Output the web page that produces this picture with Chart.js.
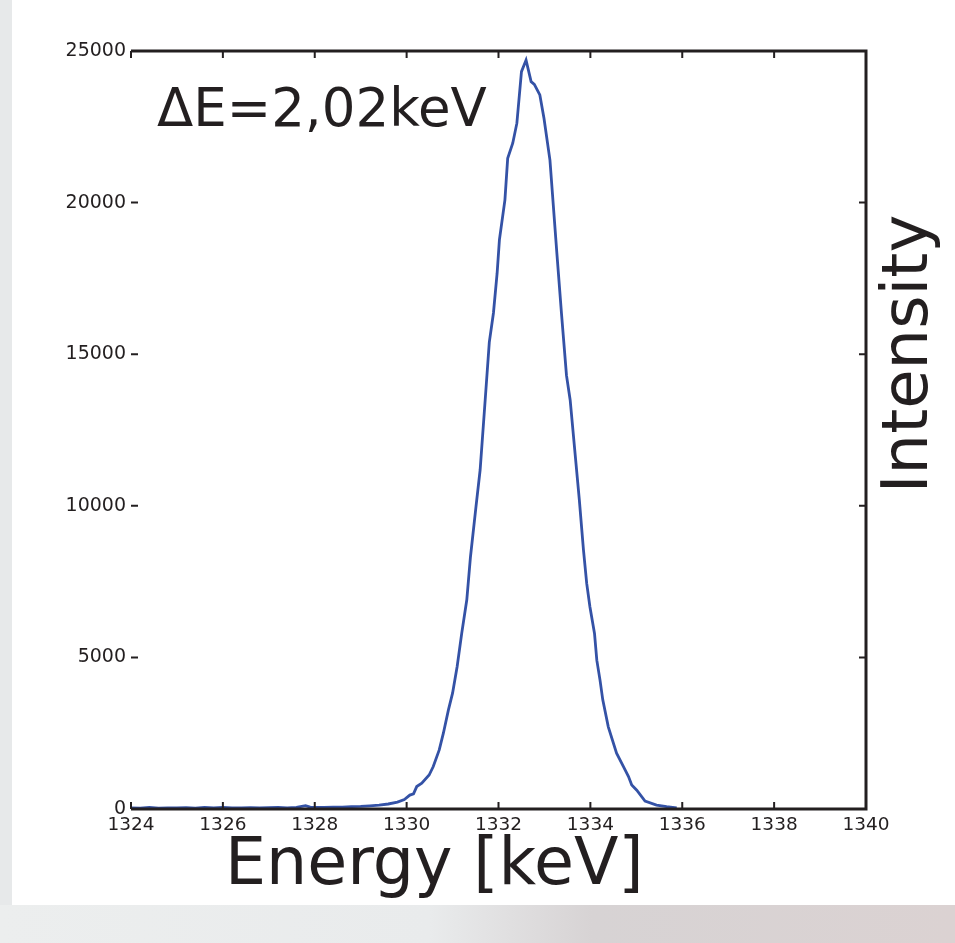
<!DOCTYPE html>
<html>
<head>
<meta charset="utf-8">
<script src="https://cdn.jsdelivr.net/npm/chart.js@4/dist/chart.umd.min.js"></script>
<style>
  html, body { margin: 0; padding: 0; }
  body {
    width: 955px; height: 943px; position: relative; overflow: hidden;
    background: linear-gradient(to right, #eceeee 0%, #e9ebec 45%, #d7d3d4 62%, #dbd2d2 100%);
  }
  #leftStrip { position: absolute; left: 0; top: 0; width: 12px; height: 905px; background: #e7e9ea; }
  #panel { position: absolute; left: 12px; top: 0; width: 943px; height: 905px; background: #fff; }
  #chart { position: absolute; left: 0; top: 0; }
</style>
</head>
<body>
<div id="leftStrip"></div>
<div id="panel"></div>
<canvas id="chart" width="955" height="943"></canvas>
<script>
// spectrum: energy [keV] and counts
const energy = [
  1324.0, 1324.2, 1324.4, 1324.6, 1324.8, 1325.0, 1325.2, 1325.4, 1325.6, 1325.8,
  1326.0, 1326.2, 1326.4, 1326.6, 1326.8, 1327.0, 1327.2, 1327.4, 1327.6, 1327.8,
  1327.9, 1328.0, 1328.2, 1328.4, 1328.6, 1328.8, 1329.0, 1329.2, 1329.4, 1329.6,
  1329.8, 1329.95, 1330.07, 1330.15, 1330.22, 1330.33, 1330.49, 1330.58, 1330.71, 1330.8,
  1330.91, 1331.0, 1331.1, 1331.2, 1331.31, 1331.39, 1331.51, 1331.6, 1331.71, 1331.8,
  1331.89, 1331.97, 1332.02, 1332.14, 1332.2, 1332.31, 1332.4, 1332.5, 1332.6, 1332.71,
  1332.78, 1332.9, 1332.99, 1333.12, 1333.27, 1333.37, 1333.48, 1333.56, 1333.66, 1333.76,
  1333.85, 1333.92, 1333.99, 1334.09, 1334.14, 1334.21, 1334.27, 1334.39, 1334.57, 1334.72,
  1334.83, 1334.9, 1335.01, 1335.19, 1335.44, 1335.66, 1335.88
];
const counts = [
  40, 30, 50, 30, 40, 35, 45, 30, 55, 40,
  50, 35, 40, 45, 35, 45, 50, 40, 55, 110,
  60, 50, 55, 65, 60, 75, 85, 105, 130, 165,
  225, 310, 460, 500, 740, 850, 1120, 1400, 1950, 2500,
  3270, 3820, 4700, 5800, 6900, 8320, 9970, 11180, 13490, 15400,
  16360, 17670, 18770, 20090, 21460, 21960, 22620, 24320, 24700, 23990,
  23900, 23550, 22780, 21400, 18340, 16360, 14300, 13490, 11840, 10190,
  8540, 7440, 6670, 5790, 4910, 4250, 3600, 2710, 1840, 1400,
  1070, 790, 620, 260, 130, 75, 40
];

const xTicks = [1324, 1326, 1328, 1330, 1332, 1334, 1336, 1338, 1340];
const yTicks = [0, 5000, 10000, 15000, 20000, 25000];

const ink = '#231f20';
const font = 'DejaVu Sans';

// frame (no left spine), inward ticks and the free text labels
const framePlugin = {
  id: 'frame',
  afterDatasetsDraw(chart) {
    const { ctx, chartArea: a, scales: { x, y } } = chart;
    ctx.save();
    ctx.strokeStyle = ink;
    ctx.lineWidth = 2;
    xTicks.forEach(v => {
      const px = x.getPixelForValue(v);
      ctx.beginPath();
      ctx.moveTo(px, a.bottom); ctx.lineTo(px, a.bottom - 7);
      ctx.moveTo(px, a.top); ctx.lineTo(px, a.top + 7);
      ctx.stroke();
    });
    yTicks.forEach(v => {
      const py = y.getPixelForValue(v);
      ctx.beginPath();
      ctx.moveTo(a.left, py); ctx.lineTo(a.left + 7, py);
      ctx.moveTo(a.right, py); ctx.lineTo(a.right - 7, py);
      ctx.stroke();
    });
    ctx.lineWidth = 3;
    ctx.beginPath();
    ctx.moveTo(a.left, a.top); ctx.lineTo(a.right, a.top);
    ctx.lineTo(a.right, a.bottom); ctx.lineTo(a.left, a.bottom);
    ctx.stroke();

    ctx.fillStyle = ink;
    ctx.textBaseline = 'alphabetic';
    ctx.font = '53px "' + font + '"';
    ctx.textAlign = 'left';
    ctx.fillText('ΔE=2,02keV', 157, 126);
    ctx.font = '65px "' + font + '"';
    ctx.fillText('Energy [keV]', 225, 884);
    ctx.translate(927, 354);
    ctx.rotate(-Math.PI / 2);
    ctx.textAlign = 'center';
    ctx.font = '64px "' + font + '"';
    ctx.fillText('Intensity', 0, 0);
    ctx.restore();
  }
};

new Chart(document.getElementById('chart'), {
  type: 'line',
  data: {
    datasets: [{
      data: energy.map((e, i) => ({ x: e, y: counts[i] })),
      borderColor: '#3452a6',
      borderWidth: 2.8,
      pointRadius: 0,
      tension: 0,
      fill: false,
    }],
  },
  options: {
    responsive: false,
    animation: false,
    layout: { padding: { left: 61, top: 51, right: 89, bottom: 94 } },
    plugins: { legend: { display: false }, tooltip: { enabled: false } },
    scales: {
      x: {
        type: 'linear',
        min: 1324, max: 1340,
        afterBuildTicks: s => { s.ticks = xTicks.map(v => ({ value: v })); },
        afterFit: s => { s.height = 40; },
        grid: { display: false, drawTicks: false },
        border: { display: false },
        ticks: { color: ink, font: { family: font, size: 18.5 }, padding: 5, maxRotation: 0, callback: v => String(v) },
      },
      y: {
        min: 0, max: 25000,
        afterBuildTicks: s => { s.ticks = yTicks.map(v => ({ value: v })); },
        afterFit: s => { s.width = 70; },
        grid: { display: false, drawTicks: false },
        border: { display: false },
        ticks: { color: ink, font: { family: font, size: 19 }, padding: 5, callback: v => String(v) },
      },
    },
  },
  plugins: [framePlugin],
});
</script>
</body>
</html>
